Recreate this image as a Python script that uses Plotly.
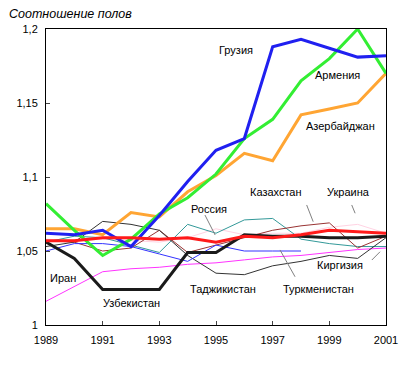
import plotly.graph_objects as go

years = list(range(1989, 2002))

georgia      = [1.062, 1.061, 1.064, 1.053, 1.074, 1.097, 1.118, 1.126, 1.188, 1.193, 1.187, 1.181, 1.182]
armenia      = [1.082, 1.064, 1.047, 1.058, 1.075, 1.086, 1.102, 1.126, 1.139, 1.165, 1.180, 1.200, 1.170]
azerbaijan   = [1.065, 1.065, 1.061, 1.076, 1.073, 1.090, 1.101, 1.116, 1.111, 1.142, 1.146, 1.150, 1.170]
kazakhstan   = [1.057, 1.056, 1.050, 1.052, 1.064, 1.049, 1.054, 1.059, 1.064, 1.067, 1.069, 1.052, 1.060]
ukraine      = [1.058, 1.057, 1.058, 1.057, 1.056, 1.059, 1.065, 1.061, 1.062, 1.062, 1.066, 1.068, 1.062]
russia       = [1.057, 1.057, 1.059, 1.059, 1.058, 1.059, 1.056, 1.060, 1.059, 1.061, 1.064, 1.063, 1.062]
iran         = [1.016, 1.026, 1.036, 1.038, 1.039, 1.041, 1.042, 1.044, 1.046, 1.047, 1.049, 1.051, 1.052]
uzbekistan   = [1.056, 1.045, 1.024, 1.024, 1.024, 1.049, 1.049, 1.061, 1.060, 1.060, 1.059, 1.059, 1.060]
tajikistan   = [1.053, 1.056, 1.070, 1.068, 1.064, 1.047, 1.035, 1.034, 1.040, 1.043, 1.047, 1.045, 1.059]
turkmenistan = [1.050, 1.055, 1.055, 1.053, 1.048, 1.043, 1.054, 1.050, 1.050, 1.050]
kirghizia    = [1.056, 1.060, 1.059, 1.054, 1.049, 1.068, 1.062, 1.071, 1.072, 1.058, 1.055, 1.053, 1.053]

y_ticks = [1.0, 1.05, 1.1, 1.15, 1.2]
y_tick_labels = ["1", "1,05", "1,1", "1,15", "1,2"]
x_ticks = [1989, 1991, 1993, 1995, 1997, 1999, 2001]

series = [
    ("Украина", ukraine, "#ffd3e3", 1),
    ("Иран", iran, "#ff33ff", 1),
    ("Киргизия", kirghizia, "#339999", 1),
    ("Казахстан", kazakhstan, "#993333", 1),
    ("Таджикистан", tajikistan, "#333333", 1),
    ("Туркменистан", turkmenistan, "#3333ff", 1),
    ("Азербайджан", azerbaijan, "#ffa533", 3),
    ("Армения", armenia, "#33ee33", 3),
    ("Грузия", georgia, "#2020f0", 3),
    ("Узбекистан", uzbekistan, "#1a1a1a", 3),
    ("Россия", russia, "#ff1a1a", 3),
]

fig = go.Figure()
for name, vals, color, w in series:
    fig.add_trace(go.Scatter(x=years[:len(vals)], y=vals, mode="lines", name=name,
                             line=dict(color=color, width=w), showlegend=False))

font = "Liberation Sans, Arial, sans-serif"
labels = [
    ("Грузия", 1995.12, 1.1858),
    ("Армения", 1998.5, 1.1689),
    ("Азербайджан", 1998.18, 1.1345),
    ("Казахстан", 1996.2, 1.0899),
    ("Украина", 1998.9, 1.0899),
    ("Россия", 1994.1, 1.0784),
    ("Иран", 1989.14, 1.0318),
    ("Узбекистан", 1991.0, 1.0149),
    ("Таджикистан", 1994.08, 1.0243),
    ("Туркменистан", 1997.37, 1.0243),
    ("Киргизия", 1998.55, 1.0405),
]
for text, x, y in labels:
    fig.add_annotation(x=x, y=y, text=text, showarrow=False, xanchor="left", yanchor="middle",
                       xshift=-2, font=dict(family=font, size=11, color="black"))

leaders = [
    (1998.2, 1.0811, 1998.43, 1.0698),
    (1999.79, 1.0811, 1999.91, 1.0755),
    (1994.61, 1.0743, 1994.97, 1.0608),
    (1997.26, 1.0507, 1997.79, 1.0326),
    (2000.5, 1.0439, 2000.79, 1.0495),
]
for x0, y0, x1, y1 in leaders:
    fig.add_shape(type="line", x0=x0, y0=y0, x1=x1, y1=y1,
                  line=dict(color="#808080", width=1))

fig.add_annotation(x=0, y=1, xref="paper", yref="paper", xshift=-39, yshift=15,
                   text="<i>Соотношение полов</i>", showarrow=False,
                   xanchor="left", yanchor="middle",
                   font=dict(family=font, size=12.5, color="black"))

fig.update_xaxes(range=[1989, 2001], tickvals=x_ticks, ticks="inside", ticklen=4,
                 showline=True, linecolor="black", linewidth=1, mirror=True,
                 showgrid=False, zeroline=False, automargin=False, ticklabelstandoff=5,
                 tickfont=dict(family=font, size=11, color="black"))
fig.update_yaxes(range=[1.0, 1.2], tickvals=y_ticks, ticktext=y_tick_labels,
                 ticks="inside", ticklen=4,
                 showline=True, linecolor="black", linewidth=1, mirror=True,
                 showgrid=False, zeroline=False, automargin=False, ticklabelstandoff=5,
                 tickfont=dict(family=font, size=11, color="black"))

# page body has an 8px margin, so the figure is sized to fit the window
fig.update_layout(width=407, height=359, margin=dict(l=38, r=29, t=21, b=42),
                  plot_bgcolor="white", paper_bgcolor="white")

fig.write_html("out.html")
